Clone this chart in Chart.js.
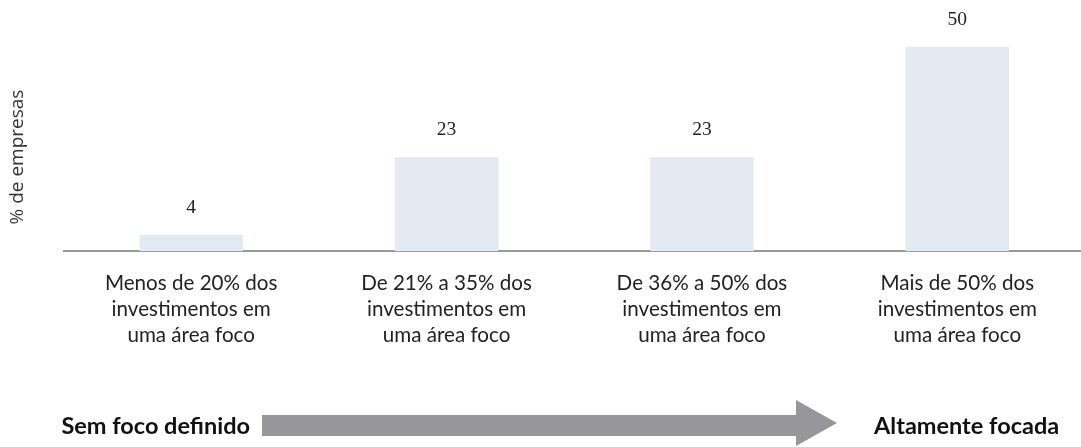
<!DOCTYPE html>
<html lang="pt-BR">
<head>
<meta charset="utf-8">
<title>Foco dos investimentos</title>
<script src="https://cdn.jsdelivr.net/npm/chart.js@4/dist/chart.umd.min.js"></script>
<style>
    html, body {
        margin: 0;
        padding: 0;
        background: #ffffff;
        overflow: hidden;
    }
    .wrap {
        position: relative;
        width: 1092px;
        height: 447px;
    }
    .scale-note {
        position: absolute;
        top: 411px;
        font-family: Lato, "Open Sans", sans-serif;
        font-weight: 700;
        font-size: 23.5px;
        line-height: 28px;
        color: #111111;
        white-space: nowrap;
    }
    .note-left { right: calc(1092px - 250px); }
    .note-right { left: 874px; }
    .shaft {
        position: absolute;
        left: 262px;
        top: 415px;
        width: 536px;
        height: 21px;
        background: #97979b;
    }
    .head {
        position: absolute;
        left: 796px;
        top: 400px;
        width: 0;
        height: 0;
        border-top: 23px solid transparent;
        border-bottom: 23px solid transparent;
        border-left: 41px solid #97979b;
    }
</style>
</head>
<body>
<div class="wrap">
    <canvas id="focoChart"></canvas>
    <div class="scale-note note-left">Sem foco definido</div>
    <div class="shaft"></div>
    <div class="head"></div>
    <div class="scale-note note-right">Altamente focada</div>
</div>
<script>
const categorias = [
    ['Menos de 20% dos', 'investimentos em', 'uma área foco'],
    ['De 21% a 35% dos', 'investimentos em', 'uma área foco'],
    ['De 36% a 50% dos', 'investimentos em', 'uma área foco'],
    ['Mais de 50% dos', 'investimentos em', 'uma área foco']
];
const percentuais = [4, 23, 23, 50];
const tituloEixoY = '% de empresas';

// escreve o valor de cada barra logo acima dela
const valoresNoTopo = {
    id: 'valoresNoTopo',
    afterDatasetsDraw(chart) {
        const ctx = chart.ctx;
        const meta = chart.getDatasetMeta(0);
        ctx.save();
        ctx.font = '19.5px "Liberation Serif", serif';
        ctx.fillStyle = '#222222';
        ctx.textAlign = 'center';
        ctx.textBaseline = 'middle';
        meta.data.forEach((bar, i) => {
            ctx.fillText(String(percentuais[i]), bar.x, bar.y - 27);
        });
        ctx.restore();
    }
};

// título do eixo y, girado, um pouco abaixo do centro da área
const tituloVertical = {
    id: 'tituloVertical',
    afterDraw(chart) {
        const ctx = chart.ctx;
        ctx.save();
        ctx.translate(18, 157);
        ctx.rotate(-Math.PI / 2);
        ctx.font = '19px "Open Sans", sans-serif';
        ctx.fillStyle = '#333333';
        ctx.textAlign = 'center';
        ctx.textBaseline = 'middle';
        ctx.fillText(tituloEixoY, 0, 0);
        ctx.restore();
    }
};

const canvas = document.getElementById('focoChart');
canvas.width = 1092;
canvas.height = 447;

new Chart(canvas.getContext('2d'), {
    type: 'bar',
    data: {
        labels: categorias,
        datasets: [{
            label: tituloEixoY,
            data: percentuais,
            backgroundColor: '#e3eaf1',
            borderWidth: 0,
            barPercentage: 0.405,
            categoryPercentage: 1
        }]
    },
    options: {
        responsive: false,
        animation: false,
        layout: {
            padding: { top: 6, right: 7, bottom: 80, left: 0 }
        },
        plugins: {
            legend: { display: false },
            tooltip: { enabled: false }
        },
        scales: {
            x: {
                grid: { display: false, drawTicks: false },
                border: { display: true, color: '#999999', width: 2 },
                ticks: {
                    color: '#222222',
                    padding: 19,
                    maxRotation: 0,
                    autoSkip: false,
                    font: { family: 'Lato', size: 20.6, lineHeight: 1.26 }
                }
            },
            y: {
                min: 0,
                max: 60,
                grid: { display: false, drawTicks: false },
                border: { display: false },
                ticks: { display: false },
                afterFit(scale) {
                    scale.width = 63.5;
                }
            }
        }
    },
    plugins: [valoresNoTopo, tituloVertical]
});
</script>
</body>
</html>
